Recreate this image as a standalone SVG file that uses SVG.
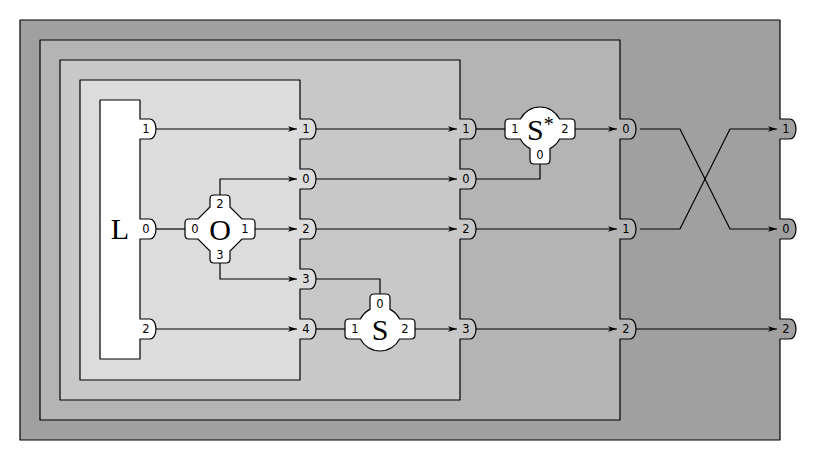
<svg xmlns="http://www.w3.org/2000/svg" width="820" height="460" viewBox="0 0 820 460">
<style>
.box{stroke:#000;stroke-width:1.2;stroke-linejoin:round}
.node{fill:#fff;stroke:#000;stroke-width:1.2}
.pl{font-family:"DejaVu Sans",sans-serif;font-size:11.5px;text-anchor:middle;fill:#000}
.nl{font-family:"Liberation Serif","Times New Roman",serif;font-size:30px;fill:#000}
.c{fill:none;stroke:#000;stroke-width:1.2}
.a{marker-end:url(#arr)}
</style>
<defs>
<marker id="arr" markerWidth="10" markerHeight="8" refX="9" refY="4" orient="auto" markerUnits="userSpaceOnUse" viewBox="0 0 10 8"><path d="M0,1.2 L9,4 L0,6.8 L2.2,4 Z" fill="#000"/></marker>
</defs>
<rect width="820" height="460" fill="#fff"/>
<g id="box1">
<path class="box" fill="#a0a0a0" d="M20,20 H780 V119 H790 A6,10 0 0 1 790,139 H780 V219 H790 A6,10 0 0 1 790,239 H780 V319 H790 A6,10 0 0 1 790,339 H780 V440 H20 Z"/>
</g>
<g id="box2">
<path class="box" fill="#b4b4b4" d="M40,40 H620 V119 H630 A6,10 0 0 1 630,139 H620 V219 H630 A6,10 0 0 1 630,239 H620 V319 H630 A6,10 0 0 1 630,339 H620 V420 H40 Z"/>
</g>
<g id="box3">
<path class="box" fill="#c8c8c8" d="M60,60 H460 V119 H470 A6,10 0 0 1 470,139 H460 V169 H470 A6,10 0 0 1 470,189 H460 V219 H470 A6,10 0 0 1 470,239 H460 V319 H470 A6,10 0 0 1 470,339 H460 V400 H60 Z"/>
</g>
<g id="box4">
<path class="box" fill="#dcdcdc" d="M80,80 H300 V119 H310 A6,10 0 0 1 310,139 H300 V169 H310 A6,10 0 0 1 310,189 H300 V219 H310 A6,10 0 0 1 310,239 H300 V269 H310 A6,10 0 0 1 310,289 H300 V319 H310 A6,10 0 0 1 310,339 H300 V380 H80 Z"/>
</g>
<g id="L">
<path class="box" fill="#fff" d="M100,100 H140 V119 H150 A6,10 0 0 1 150,139 H140 V219 H150 A6,10 0 0 1 150,239 H140 V319 H150 A6,10 0 0 1 150,339 H140 V359 H100 Z"/>
<text class="nl" x="120" y="239" text-anchor="middle" font-size="32">L</text>
<text class="pl" x="146" y="133">1</text>
<text class="pl" x="146" y="233">0</text>
<text class="pl" x="146" y="333">2</text>
</g>
<g id="O">
<path class="node" d="M210,207 V199 Q210,195 214,195 H226 Q230,195 230,199 V207 L242,219 H251 Q255,219 255,223 V235 Q255,239 251,239 H242 L230,251 V259 Q230,263 226,263 H214 Q210,263 210,259 V251 L198,239 H189 Q185,239 185,235 V223 Q185,219 189,219 H198 Z"/>
<text class="nl" x="220" y="239.5" text-anchor="middle">O</text>
<text class="pl" x="195" y="233">0</text>
<text class="pl" x="245" y="233">1</text>
<text class="pl" x="220" y="208">2</text>
<text class="pl" x="220" y="259">3</text>
</g>
<g id="S">
<path class="node" d="M370,309.4 V298 Q370,294 374,294 H386 Q390,294 390,298 V309.4 A22,22 0 0 1 399.6,319 H411 Q415,319 415,323 V335 Q415,339 411,339 H399.6 A22,22 0 0 1 360.4,339 H349 Q345,339 345,335 V323 Q345,319 349,319 H360.4 A22,22 0 0 1 370,309.4 Z"/>
<text class="nl" x="380" y="340" text-anchor="middle">S</text>
<text class="pl" x="355" y="333">1</text>
<text class="pl" x="405" y="333">2</text>
<text class="pl" x="380" y="308">0</text>
</g>
<g id="Sstar">
<path class="node" d="M520.4,119 A22,22 0 0 1 559.6,119 H571 Q575,119 575,123 V135 Q575,139 571,139 H559.6 A22,22 0 0 1 550,148.6 V160 Q550,164 546,164 H534 Q530,164 530,160 V148.6 A22,22 0 0 1 520.4,139 H509 Q505,139 505,135 V123 Q505,119 509,119 Z"/>
<text class="nl" x="527" y="140">S<tspan font-size="20" dy="-9">*</tspan></text>
<text class="pl" x="515" y="133">1</text>
<text class="pl" x="565" y="133">2</text>
<text class="pl" x="540" y="159">0</text>
</g>
<g id="box4-ports">
<text class="pl" x="306" y="133">1</text>
<text class="pl" x="306" y="183">0</text>
<text class="pl" x="306" y="233">2</text>
<text class="pl" x="306" y="283">3</text>
<text class="pl" x="306" y="333">4</text>
</g>
<g id="box3-ports">
<text class="pl" x="466" y="133">1</text>
<text class="pl" x="466" y="183">0</text>
<text class="pl" x="466" y="233">2</text>
<text class="pl" x="466" y="333">3</text>
</g>
<g id="box2-ports">
<text class="pl" x="626" y="133">0</text>
<text class="pl" x="626" y="233">1</text>
<text class="pl" x="626" y="333">2</text>
</g>
<g id="box1-ports">
<text class="pl" x="786" y="133">1</text>
<text class="pl" x="786" y="233">0</text>
<text class="pl" x="786" y="333">2</text>
</g>
<g id="connectors">
<path class="c a" d="M156,129 H297"/>
<path class="c" d="M156,229 H185"/>
<path class="c a" d="M156,329 H297"/>
<path class="c a" d="M220,195 V179 H297"/>
<path class="c a" d="M255,229 H297"/>
<path class="c a" d="M220,263 V279 H297"/>
<path class="c a" d="M316,129 H457"/>
<path class="c a" d="M316,179 H457"/>
<path class="c a" d="M316,229 H457"/>
<path class="c" d="M316,279 H380 V294"/>
<path class="c" d="M316,329 H345"/>
<path class="c a" d="M415,329 H457"/>
<path class="c" d="M476,129 H505"/>
<path class="c" d="M476,179 H540 V164"/>
<path class="c a" d="M575,129 H617"/>
<path class="c a" d="M476,229 H617"/>
<path class="c a" d="M476,329 H617"/>
<path class="c a" d="M640,129 H680 L730,229 H777"/>
<path class="c a" d="M640,229 H680 L730,129 H777"/>
<path class="c a" d="M636,329 H777"/>
</g>
</svg>
